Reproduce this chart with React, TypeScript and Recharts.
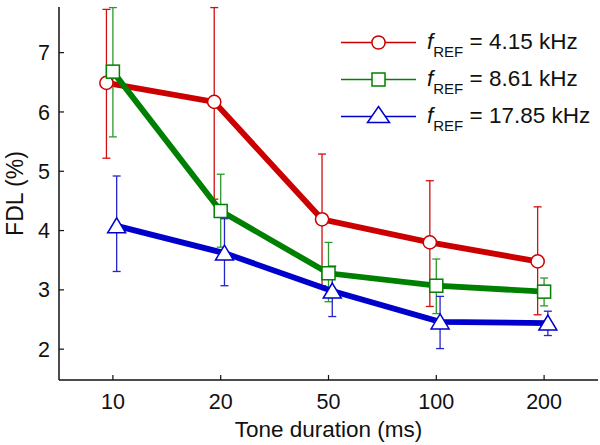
import { LineChart, Line, XAxis, YAxis, ErrorBar, Legend } from 'recharts'

const durations = ['10', '20', '50', '100', '200']

// FDL (%) per tone duration, with lower / upper error bar ends
const red = [6.49, 6.17, 4.19, 3.8, 3.48]
const redLo = [5.22, 4.53, 3.07, 2.72, 2.58]
const redHi = [7.73, 7.76, 5.29, 4.84, 4.4]

const green = [6.68, 4.33, 3.28, 3.07, 2.97]
const greenLo = [5.58, 3.72, 2.8, 2.6, 2.73]
const greenHi = [7.76, 4.95, 3.8, 3.52, 3.2]

const blue = [4.08, 3.62, 2.98, 2.46, 2.44]
const blueLo = [3.31, 3.07, 2.55, 2.01, 2.23]
const blueHi = [4.92, 4.2, 3.4, 2.89, 2.64]

const FONT = '"Liberation Sans", Arial, sans-serif'

const build = (vals: number[], lo: number[], hi: number[], shift: number) =>
  vals.map((v, i) => ({ x: i + shift, y: v, err: [v - lo[i], hi[i] - v] }))

type Shape = 'circle' | 'square' | 'triangle'

const SERIES: { key: string; label: string; color: string; barColor: string; shape: Shape; data: any[] }[] = [
  { key: 'r', label: '4.15 kHz', color: '#cc0000', barColor: '#d01010', shape: 'circle', data: build(red, redLo, redHi, -0.06) },
  { key: 'g', label: '8.61 kHz', color: '#008000', barColor: '#2a9a2a', shape: 'square', data: build(green, greenLo, greenHi, 0) },
  { key: 'b', label: '17.85 kHz', color: '#0000cc', barColor: '#2525cc', shape: 'triangle', data: build(blue, blueLo, blueHi, 0.035) },
]

function Marker({ cx, cy, shape, color, big }: { cx: number; cy: number; shape: Shape; color: string; big?: boolean }) {
  if (shape === 'circle') return <circle cx={cx} cy={cy} r={6.6} fill="#fff" stroke={color} strokeWidth={1.5} />
  if (shape === 'square') return <rect x={cx - 6.5} y={cy - 6.5} width={13} height={13} fill="#fff" stroke={color} strokeWidth={1.5} />
  const w = big ? 11 : 9
  const up = big ? 10 : 8
  const dn = big ? 6 : 7
  return (
    <path
      d={`M${cx},${cy - up} L${cx + w},${cy + dn} L${cx - w},${cy + dn} Z`}
      fill="#fff"
      stroke={color}
      strokeWidth={1.5}
    />
  )
}

const LegendBox = () => (
  <div style={{ fontFamily: FONT }}>
    {SERIES.map((s) => (
      <div key={s.key} style={{ display: 'flex', alignItems: 'center', height: 37 }}>
        <svg width={76} height={37}>
          <line x1={0} y1={18.5} x2={75} y2={18.5} stroke={s.color} strokeWidth={1.5} />
          <Marker cx={37.5} cy={18.5} shape={s.shape} color={s.color} big />
        </svg>
        <span style={{ marginLeft: 10, fontSize: 22.5, color: '#111', whiteSpace: 'nowrap', lineHeight: '22px' }}>
          <span style={{ fontStyle: 'italic' }}>f</span>
          <span style={{ fontSize: 15, position: 'relative', top: 8 }}>REF</span>
          {' = ' + s.label}
        </span>
      </div>
    ))}
  </div>
)

const YTitle = ({ viewBox }: any) => {
  const x = viewBox.x + 15
  const y = viewBox.y + viewBox.height / 2
  return (
    <text x={x} y={y} transform={`rotate(-90 ${x} ${y})`} textAnchor="middle" dominantBaseline="central"
      fontSize={23} fontFamily={FONT} fill="#111">
      FDL (%)
    </text>
  )
}

export default function App() {
  return (
    <div style={{ position: 'absolute', left: 0, top: 0, background: '#fff' }}>
      <LineChart width={600} height={445} margin={{ top: 7, right: 2, left: 0, bottom: 0 }}>
        <XAxis
          type="number"
          dataKey="x"
          domain={[-0.5, 4.5]}
          ticks={[0, 1, 2, 3, 4]}
          tickFormatter={(i: number) => durations[i]}
          height={65}
          tickSize={-5}
          tickMargin={19}
          axisLine={{ stroke: '#111', strokeWidth: 1.5 }}
          tickLine={{ stroke: '#111', strokeWidth: 1.2 }}
          tick={{ fontSize: 21.5, fill: '#111', fontFamily: FONT }}
          label={{ value: 'Tone duration (ms)', position: 'insideBottom', offset: 8, fontSize: 22.5, fill: '#111', fontFamily: FONT }}
          allowDataOverflow
        />
        <YAxis
          type="number"
          domain={[1.48, 7.77]}
          ticks={[2, 3, 4, 5, 6, 7]}
          width={59}
          tickSize={-5}
          tickMargin={14}
          axisLine={{ stroke: '#111', strokeWidth: 1.5 }}
          tickLine={{ stroke: '#111', strokeWidth: 1.2 }}
          tick={{ fontSize: 21.5, fill: '#111', fontFamily: FONT }}
          label={{ content: YTitle }}
          allowDataOverflow
        />
        <Legend
          content={LegendBox}
          layout="vertical"
          align="center"
          verticalAlign="middle"
          wrapperStyle={{ left: 341, top: 24, width: 258, height: 111 }}
        />
        {SERIES.map((s) => (
          <Line
            key={s.key}
            data={s.data}
            dataKey="y"
            type="linear"
            stroke={s.color}
            strokeWidth={5.8}
            isAnimationActive={false}
            dot={(p: any) => <Marker key={p.key ?? p.index} cx={p.cx} cy={p.cy} shape={s.shape} color={s.color} />}
            activeDot={false}
          >
            <ErrorBar dataKey="err" direction="y" width={4} stroke={s.barColor} strokeWidth={1.3} />
          </Line>
        ))}
      </LineChart>
    </div>
  )
}
